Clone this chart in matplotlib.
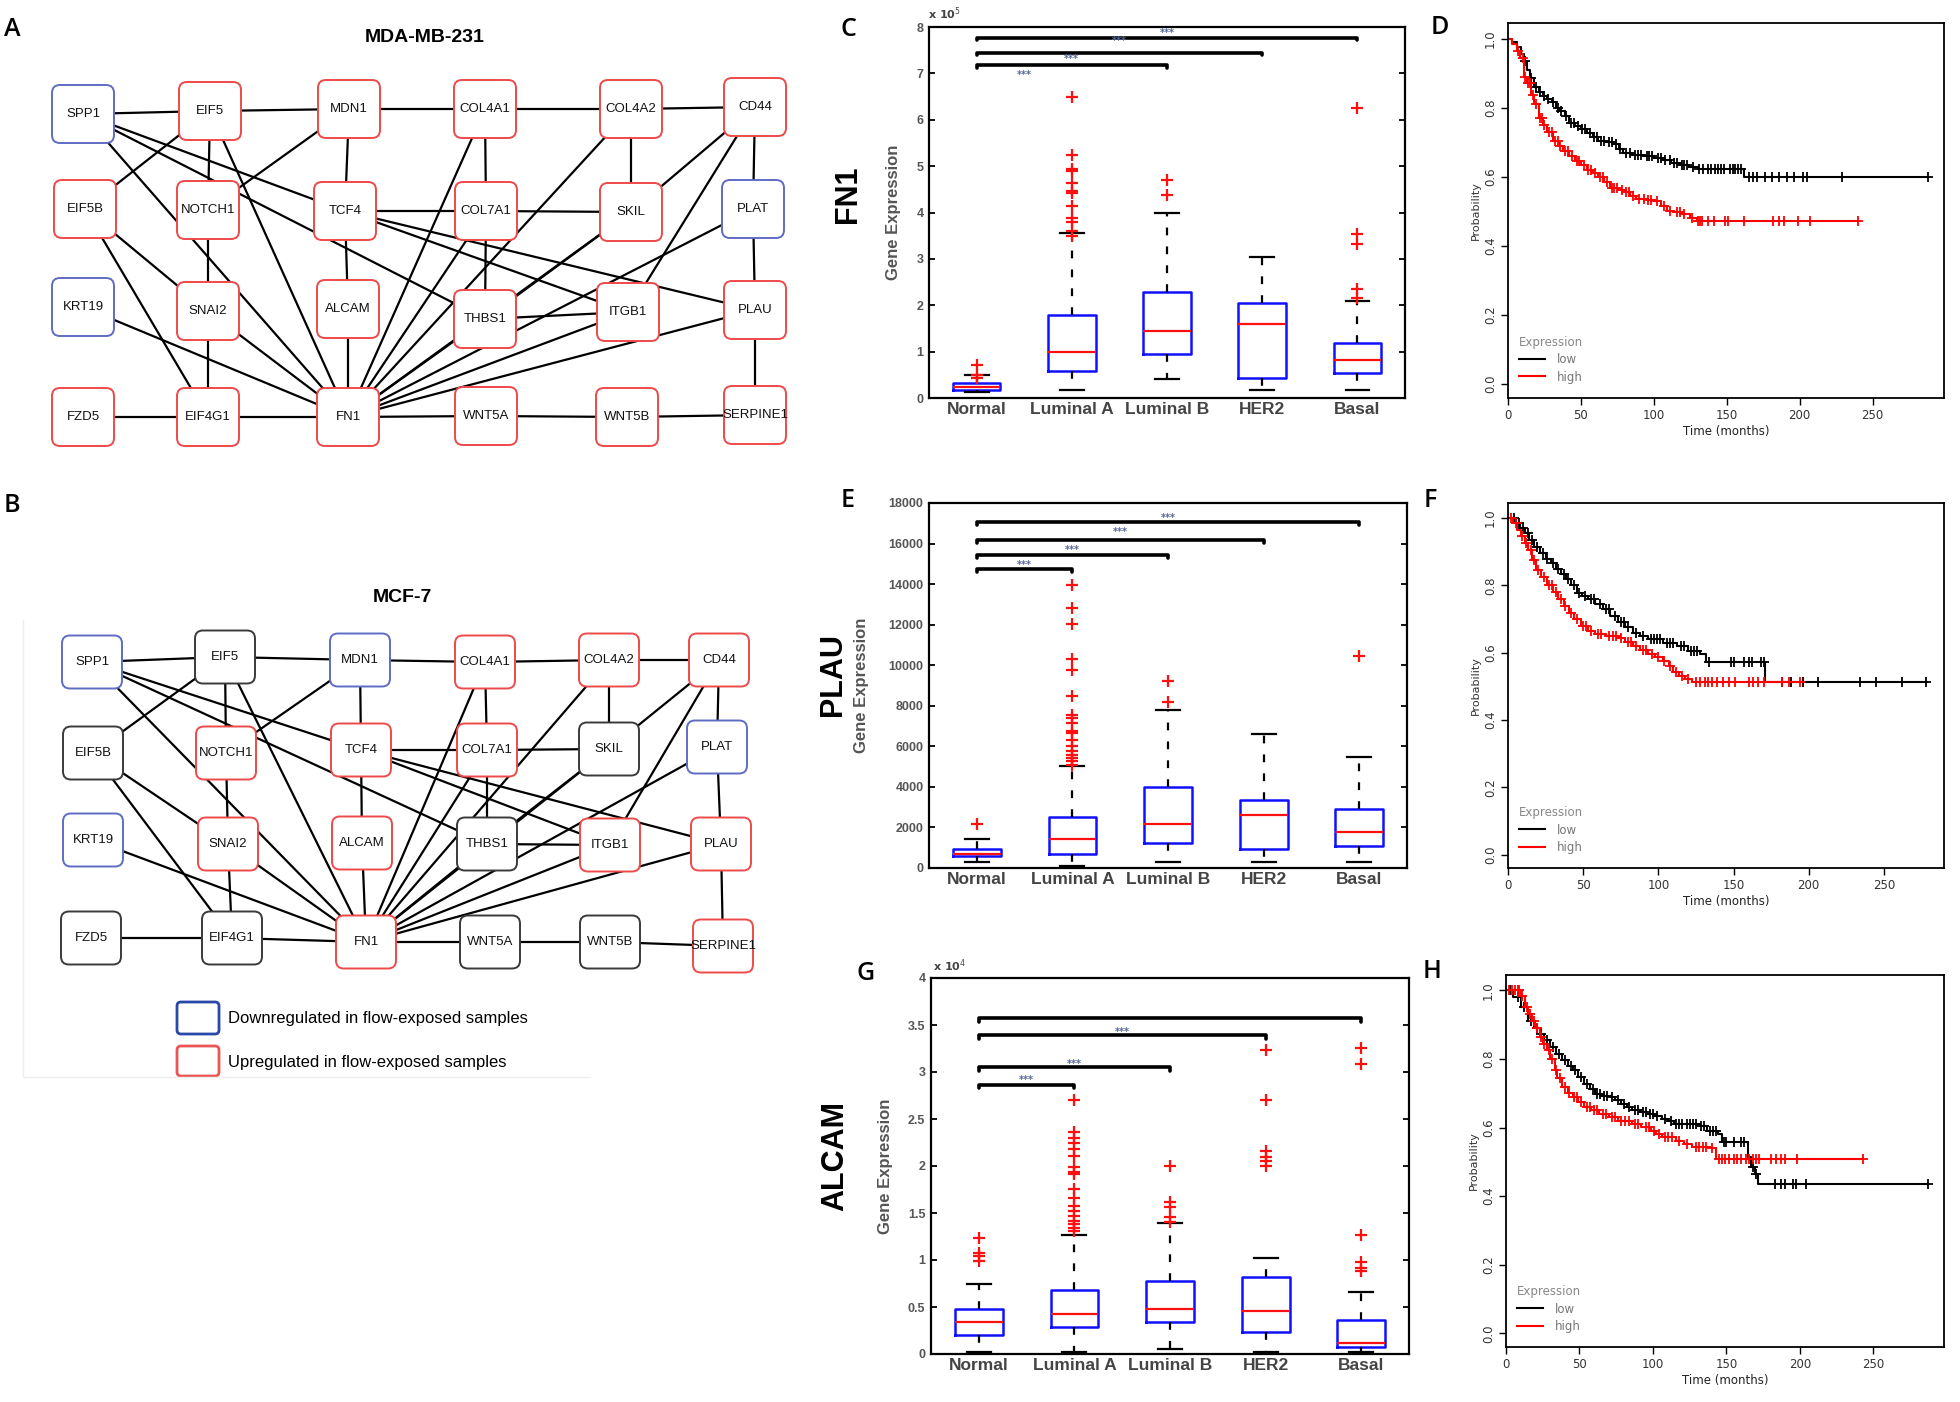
import numpy as np
import matplotlib
matplotlib.use('Agg')
import matplotlib.pyplot as plt
from matplotlib.patches import FancyBboxPatch
from matplotlib import font_manager

# ---------------- data ----------------
genes = ['SPP1', 'EIF5', 'MDN1', 'COL4A1', 'COL4A2', 'CD44',
         'EIF5B', 'NOTCH1', 'TCF4', 'COL7A1', 'SKIL', 'PLAT',
         'KRT19', 'SNAI2', 'ALCAM', 'THBS1', 'ITGB1', 'PLAU',
         'FZD5', 'EIF4G1', 'FN1', 'WNT5A', 'WNT5B', 'SERPINE1']
# network layout (node centres)
A_x = [83, 210, 349, 485, 631, 755, 85, 208, 345, 486, 631, 753,
       83, 208, 348, 485, 628, 755, 83, 208, 348, 486, 627, 755]
A_y = [114, 111, 109, 109, 109, 107, 209, 210, 211, 211, 212, 209,
       307, 311, 309, 319, 312, 310, 417, 417, 417, 416, 417, 415]
B_x = [92, 225, 360, 485, 609, 719, 93, 226, 361, 487, 609, 717,
       93, 228, 362, 487, 610, 721, 91, 232, 366, 490, 610, 723]
B_y = [662, 657, 660, 662, 660, 660, 753, 753, 750, 750, 749, 747,
       840, 844, 843, 844, 845, 844, 938, 938, 942, 942, 942, 946]
A_reg = ['down', 'up', 'up', 'up', 'up', 'up', 'up', 'up', 'up', 'up', 'up', 'down',
         'down', 'up', 'up', 'up', 'up', 'up', 'up', 'up', 'up', 'up', 'up', 'up']
B_reg = ['down', 'none', 'down', 'up', 'up', 'up', 'none', 'up', 'up', 'up', 'none', 'down',
         'down', 'up', 'up', 'none', 'up', 'up', 'none', 'none', 'up', 'none', 'none', 'up']
edges = [('SPP1', 'EIF5'), ('EIF5', 'MDN1'), ('MDN1', 'COL4A1'), ('COL4A1', 'COL4A2'), ('COL4A2', 'CD44'),
         ('SPP1', 'TCF4'), ('SPP1', 'THBS1'), ('SPP1', 'FN1'), ('EIF5', 'EIF5B'), ('EIF5', 'NOTCH1'),
         ('EIF5', 'FN1'), ('MDN1', 'NOTCH1'), ('MDN1', 'TCF4'), ('COL4A1', 'COL7A1'), ('COL4A1', 'FN1'),
         ('COL4A2', 'SKIL'), ('COL4A2', 'FN1'), ('CD44', 'SKIL'), ('CD44', 'PLAT'), ('CD44', 'ITGB1'),
         ('EIF5B', 'SNAI2'), ('EIF5B', 'EIF4G1'), ('NOTCH1', 'SNAI2'), ('TCF4', 'COL7A1'), ('TCF4', 'ALCAM'),
         ('TCF4', 'ITGB1'), ('TCF4', 'PLAU'), ('COL7A1', 'SKIL'), ('COL7A1', 'THBS1'), ('COL7A1', 'FN1'),
         ('SKIL', 'THBS1'), ('SKIL', 'FN1'), ('PLAT', 'FN1'), ('PLAT', 'PLAU'), ('KRT19', 'FN1'),
         ('SNAI2', 'EIF4G1'), ('SNAI2', 'FN1'), ('ALCAM', 'FN1'), ('THBS1', 'ITGB1'), ('THBS1', 'FN1'),
         ('ITGB1', 'FN1'), ('PLAU', 'FN1'), ('PLAU', 'SERPINE1'), ('FZD5', 'EIF4G1'), ('EIF4G1', 'FN1'),
         ('FN1', 'WNT5A'), ('WNT5A', 'WNT5B'), ('WNT5B', 'SERPINE1')]

subtypes = ['Normal', 'Luminal A', 'Luminal B', 'HER2', 'Basal']

# FN1 (x 10^5)
fn1_q1 = [0.18, 0.59, 0.95, 0.44, 0.54]
fn1_med = [0.23, 1.00, 1.45, 1.59, 0.82]
fn1_q3 = [0.32, 1.79, 2.29, 2.05, 1.19]
fn1_lo = [0.12, 0.18, 0.41, 0.18, 0.18]
fn1_hi = [0.50, 3.56, 3.98, 3.05, 2.09]
fn1_out = [[0.43, 0.50, 0.71],
           [6.49, 5.25, 4.93, 4.89, 4.64, 4.46, 4.43, 4.14, 3.89, 3.79, 3.60, 3.50],
           [4.71, 4.38], [], [6.25, 3.54, 3.32, 2.36, 2.16]]
fn1_bar_to = [3, 4, 5]
fn1_bar_y = [7.17, 7.45, 7.77]
fn1_star_to = [2, 3, 4, 5]
fn1_star_y = [6.96, 7.32, 7.70, 7.88]

# PLAU
plau_q1 = [575, 707, 1233, 937, 1101]
plau_med = [707, 1447, 2186, 2597, 1759]
plau_q3 = [937, 2499, 3978, 3337, 2910]
plau_lo = [296, 80, 296, 296, 296]
plau_hi = [1447, 5047, 7776, 6608, 5458]
plau_out = [[2170],
            [13973, 12822, 12050, 10307, 9748, 8466, 7562, 7398, 7151, 6740, 6658, 6329,
             6000, 5753, 5589, 5425, 5260, 5096],
            [9239, 8187], [], [10472]]
plau_bar_to = [2, 3, 4, 5]
plau_bar_y = [14746, 15453, 16193, 17047]
plau_star_to = [2, 3, 4, 5]
plau_star_y = [14927, 15699, 16570, 17260]

# ALCAM (x 10^4)
alcam_q1 = [0.199, 0.287, 0.34, 0.23, 0.074]
alcam_med = [0.34, 0.43, 0.479, 0.454, 0.117]
alcam_q3 = [0.479, 0.684, 0.773, 0.816, 0.365]
alcam_lo = [0.02, 0.02, 0.05, 0.02, 0.02]
alcam_hi = [0.75, 1.27, 1.39, 1.02, 0.66]
alcam_out = [[1.23, 1.07, 1.04, 0.99],
             [2.70, 2.36, 2.30, 2.24, 2.18, 2.11, 1.99, 1.94, 1.91, 1.76, 1.66, 1.57,
              1.52, 1.47, 1.41, 1.38, 1.34, 1.31],
             [2.0, 1.62, 1.56, 1.46, 1.40],
             [3.23, 2.70, 2.16, 2.10, 2.05, 2.0],
             [3.26, 3.09, 1.27, 0.975, 0.92, 0.88]]
alcam_bar_to = [2, 3, 4, 5]
alcam_bar_y = [2.865, 3.05, 3.39, 3.57]
alcam_star_to = [2, 3, 4]
alcam_star_y = [2.91, 3.09, 3.43]

# Kaplan-Meier curves (step times / survival, end of follow-up, censor times)
D_low_t = [0, 3, 6, 9, 11, 13, 15, 18, 21, 24, 27, 30, 33, 36, 39, 42, 46, 50, 54, 58, 62, 67, 72,
           76, 79, 85, 93, 100, 106, 112, 118, 124, 130, 162]
D_low_s = [1.0, 0.99, 0.975, 0.955, 0.935, 0.91, 0.885, 0.86, 0.845, 0.835, 0.825, 0.815, 0.80,
           0.79, 0.775, 0.757, 0.748, 0.738, 0.728, 0.715, 0.704, 0.70, 0.695, 0.68, 0.668, 0.663,
           0.66, 0.655, 0.648, 0.64, 0.635, 0.628, 0.622, 0.598]
D_low_end = 288
D_low_c = [12, 16, 19, 22, 25, 27.5, 31, 34, 36.5, 40, 43, 45, 48, 51, 53, 56, 59, 61, 64, 66, 69,
           71, 74, 77, 81, 84, 87, 89, 91, 95, 97, 99, 103, 105, 108, 111, 114, 116, 119, 121, 123,
           127, 131, 134, 137, 139, 142, 144, 146, 148, 152, 154, 156, 158, 160, 165, 168, 171, 176,
           181, 186, 191, 196, 202, 205, 229, 288]
D_high_t = [0, 3, 6, 8.5, 11, 13, 16, 18, 21, 24, 27, 31, 35, 38, 42, 46, 50, 54, 58, 62, 66, 70,
            76, 80, 84, 88, 95, 101, 105, 109, 114, 119, 125, 129.5]
D_high_s = [1.0, 0.985, 0.965, 0.944, 0.89, 0.87, 0.838, 0.81, 0.771, 0.75, 0.73, 0.704, 0.69,
            0.675, 0.66, 0.645, 0.635, 0.62, 0.61, 0.598, 0.585, 0.569, 0.562, 0.555, 0.545, 0.536,
            0.532, 0.53, 0.515, 0.502, 0.497, 0.492, 0.482, 0.473]
D_high_end = 240
D_high_c = [7, 10, 12, 14, 15, 17, 19.5, 22, 23, 25, 28, 30, 32, 34, 36, 39, 41, 44, 47, 49, 52, 55,
            57, 60, 63, 65, 68, 71, 73, 75, 78, 81, 83, 86, 90, 93, 96, 98, 102, 107, 111, 116, 118,
            121, 126, 130, 131.5, 133, 137, 141, 149, 151, 162, 182, 186, 189, 199, 207, 240]

F_low_t = [0, 5, 8, 11, 14, 17, 21, 25, 28.5, 32, 35, 38.4, 42, 45.8, 49, 53, 58, 63, 68, 73, 78,
           83, 88, 93, 103, 112.6, 120, 127.5, 132, 171]
F_low_s = [1.0, 0.985, 0.97, 0.956, 0.935, 0.915, 0.897, 0.88, 0.867, 0.85, 0.835, 0.818, 0.80,
           0.778, 0.768, 0.759, 0.745, 0.729, 0.71, 0.69, 0.675, 0.66, 0.65, 0.64, 0.63, 0.62,
           0.606, 0.596, 0.571, 0.514]
F_low_end = 279
F_low_c = [4, 7, 10, 13, 16, 19, 23, 26, 30, 33, 37, 40, 44, 47, 51, 55, 57, 61, 65, 67, 71, 75,
           77, 80, 85, 90, 95, 97, 99, 101, 106, 108, 110, 115, 117, 122, 124, 126, 134, 148, 150,
           157, 160, 162, 168, 170, 182, 188, 196, 206, 234, 245, 262, 278]
F_high_t = [0, 3, 6, 8.7, 11, 13.6, 16, 18.6, 22, 26, 30, 33.4, 37, 40.8, 44, 48.3, 53, 58, 65,
            73, 78, 83, 88, 93, 98, 103, 107, 110, 114, 117.6, 122.5]
F_high_s = [1.0, 0.985, 0.965, 0.946, 0.925, 0.906, 0.875, 0.847, 0.825, 0.80, 0.78, 0.759, 0.74,
            0.719, 0.70, 0.68, 0.665, 0.655, 0.65, 0.645, 0.632, 0.62, 0.608, 0.596, 0.586, 0.576,
            0.56, 0.542, 0.532, 0.522, 0.514]
F_high_end = 197
F_high_c = [2, 5, 9, 12, 15, 17, 20, 24, 27, 29, 32, 35, 38, 42, 46, 50, 52, 55, 60, 62, 67, 70,
            72, 75, 80, 82, 85, 90, 92, 96, 100, 104, 108, 112, 116, 120, 125, 128, 131, 133, 136,
            139, 143, 147, 151, 160, 163, 166, 170, 182, 187, 194]

H_low_t = [0, 5, 10, 15, 19, 22.8, 26, 30, 34, 38, 42, 45.5, 49, 53, 57, 60.7, 65, 70.9, 74, 78,
           82, 86, 91, 96, 101, 106, 110, 114, 131.6, 136.6, 144, 146.8, 164.5, 167, 169.5, 171.6]
H_low_s = [1.0, 0.98, 0.951, 0.912, 0.89, 0.874, 0.855, 0.835, 0.815, 0.796, 0.78, 0.767, 0.748,
           0.728, 0.712, 0.698, 0.692, 0.689, 0.68, 0.669, 0.66, 0.65, 0.645, 0.64, 0.633, 0.625,
           0.618, 0.611, 0.606, 0.591, 0.582, 0.557, 0.514, 0.484, 0.465, 0.434]
H_low_end = 287
H_low_c = [3, 8, 12, 17, 21, 24, 28, 32, 36, 40, 44, 47, 51, 55, 59, 62, 64, 67, 69, 72, 76, 80,
           84, 88, 90, 93, 95, 98, 100, 103, 108, 112, 116, 118, 120, 123, 125, 127, 129, 133, 135,
           139, 141, 143, 148, 150, 155, 160, 162, 168, 170, 183, 187, 190, 195, 197, 204, 287]
H_high_t = [0, 10, 12.6, 15, 17.7, 20, 22.8, 25, 27.8, 30, 33, 35, 38, 42, 45.5, 49, 53, 58, 63,
            70, 76, 86, 92, 98.7, 102, 106, 116, 121, 126.5, 139, 143]
H_high_s = [1.0, 0.985, 0.951, 0.93, 0.912, 0.89, 0.864, 0.845, 0.825, 0.80, 0.767, 0.745, 0.718,
            0.70, 0.689, 0.675, 0.66, 0.65, 0.64, 0.63, 0.62, 0.611, 0.603, 0.591, 0.58, 0.572,
            0.562, 0.552, 0.543, 0.541, 0.509]
H_high_end = 243
H_high_c = [2, 4, 6, 8, 9, 11, 14, 16, 19, 21, 24, 26, 29, 31, 34, 37, 40, 43, 46, 48, 51, 55, 57,
            60, 62, 66, 68, 72, 74, 78, 81, 84, 88, 90, 95, 97, 101, 104, 108, 110, 113, 118, 123,
            129, 131, 134, 136, 140, 145, 147, 149, 152, 155, 157, 160, 163, 165, 168, 170, 172,
            180, 184, 187, 190, 198, 243]

# ---------------- figure ----------------
W, H = 1960, 1402
fig = plt.figure(figsize=(W / 100, H / 100), dpi=100)
avail = {f.name for f in font_manager.fontManager.ttflist}
NARROW = 'Liberation Sans Narrow' if 'Liberation Sans Narrow' in avail else 'Liberation Sans'
SANS = 'Liberation Sans'
LETTER = 'Open Sans' if 'Open Sans' in avail else 'DejaVu Sans'


def fa(l, t, r, b):
    return [l / W, 1 - b / H, (r - l) / W, (b - t) / H]


def px(x, y):
    return x / W, 1 - y / H


# ---------------- networks ----------------
axn = fig.add_axes(fa(0, 0, 820, H))
axn.set_xlim(0, 820)
axn.set_ylim(H, 0)
axn.axis('off')
axn.patch.set_alpha(0)
regcol = {'up': '#ee4a4a', 'down': '#5f6cc4', 'none': '#3a3a3a'}


def draw_network(xs, ys, regs, bw, bh):
    pos = {g: (x, y) for g, x, y in zip(genes, xs, ys)}
    for a, b in edges:
        (x1, y1), (x2, y2) = pos[a], pos[b]
        axn.plot([x1, x2], [y1, y2], color='black', lw=1.6, zorder=1)
    for g, r in zip(genes, regs):
        x, y = pos[g]
        axn.add_patch(FancyBboxPatch((x - bw / 2, y - bh / 2), bw, bh,
                                     boxstyle='round,pad=0,rounding_size=8',
                                     fc='white', ec=regcol[r], lw=1.4, zorder=2))
        axn.text(x, y, g, ha='center', va='center', fontsize=9.5, family=NARROW,
                 color='#111111', zorder=3)


draw_network(A_x, A_y, A_reg, 62, 58)
draw_network(B_x, B_y, B_reg, 60, 53)
axn.text(425, 38, 'MDA-MB-231', ha='center', va='center', fontsize=14, weight='bold', family=SANS)
axn.text(402, 598, 'MCF-7', ha='center', va='center', fontsize=14, weight='bold', family=SANS)
# legend of network B
axn.add_patch(FancyBboxPatch((177, 1002), 42, 32, boxstyle='round,pad=0,rounding_size=4',
                             fc='white', ec='#2a48a8', lw=2))
axn.add_patch(FancyBboxPatch((177, 1046), 42, 30, boxstyle='round,pad=0,rounding_size=4',
                             fc='white', ec='#ec5555', lw=2))
axn.text(228, 1018, 'Downregulated in flow-exposed samples', va='center', fontsize=12, family=SANS)
axn.text(228, 1062, 'Upregulated in flow-exposed samples', va='center', fontsize=12, family=SANS)
axn.plot([23, 23, 590], [620, 1077, 1077], color='#eeeeee', lw=1)

# ---------------- box plots ----------------


def boxpanel(box, q1, med, q3, lo, hi, out, ylim, yticks, yticklabels,
             bar_to, bar_y, star_to, star_y, hook, ylab_x):
    ax = fig.add_axes(fa(*box))
    stats = [dict(med=m, q1=a, q3=b, whislo=l, whishi=h, fliers=np.array(o, dtype=float))
             for a, m, b, l, h, o in zip(q1, med, q3, lo, hi, out)]
    pos = np.arange(1, len(subtypes) + 1)
    ax.bxp(stats, positions=pos, widths=0.5,
           boxprops=dict(color='#1010ff', lw=1.8),
           medianprops=dict(color='#ff1010', lw=1.6),
           whiskerprops=dict(color='black', lw=1.6, linestyle=(0, (3.5, 5))),
           capprops=dict(color='black', lw=1.6),
           flierprops=dict(marker='+', markeredgecolor='#ff1010', markersize=8, mew=1.6,
                           linestyle='none'))
    for k, yb in zip(bar_to, bar_y):
        ax.plot([1, 1, k, k], [yb - hook, yb, yb, yb - hook], color='black', lw=2.6,
                solid_joinstyle='round', solid_capstyle='round')
    for k, ys in zip(star_to, star_y):
        ax.text((1 + k) / 2, ys, '***', ha='center', va='center', fontsize=7,
                color='#556699', weight='bold')
    ax.set_xlim(0.5, 5.5)
    ax.set_ylim(*ylim)
    ax.set_yticks(yticks)
    ax.set_yticklabels(yticklabels)
    ax.set_xticks(pos)
    ax.set_xticklabels(subtypes)
    ax.tick_params(axis='y', direction='in', right=True, length=4, width=1.3,
                   labelsize=9, labelcolor='#555555', pad=4)
    ax.tick_params(axis='x', length=0, labelsize=12.5, labelcolor='#444444', pad=3)
    for lab in ax.get_xticklabels() + ax.get_yticklabels():
        lab.set_fontweight('bold')
        lab.set_family(SANS)
    for s in ax.spines.values():
        s.set_linewidth(1.6)
    ax.set_ylabel('Gene Expression', fontsize=12, weight='bold', color='#555555', family=SANS)
    ax.yaxis.set_label_coords(ylab_x, 0.5)
    return ax


boxpanel((929, 27, 1405, 398), fn1_q1, fn1_med, fn1_q3, fn1_lo, fn1_hi, fn1_out,
         (0, 8), np.arange(0, 9), [str(v) for v in range(9)],
         fn1_bar_to, fn1_bar_y, fn1_star_to, fn1_star_y, 0.06, -0.058)
boxpanel((929, 503, 1407, 868), plau_q1, plau_med, plau_q3, plau_lo, plau_hi, plau_out,
         (0, 18000), np.arange(0, 18001, 2000), [str(v) for v in range(0, 18001, 2000)],
         plau_bar_to, plau_bar_y, plau_star_to, plau_star_y, 150, -0.125)
boxpanel((931, 978, 1409, 1354), alcam_q1, alcam_med, alcam_q3, alcam_lo, alcam_hi, alcam_out,
         (0, 4), np.arange(0, 4.01, 0.5), ['0', '0.5', '1', '1.5', '2', '2.5', '3', '3.5', '4'],
         alcam_bar_to, alcam_bar_y, alcam_star_to, alcam_star_y, 0.04, -0.08)
fig.text(*px(928, 14), 'x 10$^5$', fontsize=8, color='#444444', va='center', weight='bold')
fig.text(*px(933, 966), 'x 10$^4$', fontsize=8, color='#444444', va='center', weight='bold')
for name, (gx, gy) in zip(['FN1', 'PLAU', 'ALCAM'], [(848, 194), (833, 675), (835, 1156)]):
    fig.text(*px(gx, gy), name, rotation=90, ha='center', va='center', fontsize=22,
             weight='bold', family=NARROW)

# ---------------- Kaplan-Meier ----------------


def step_at(ts, ss, t):
    i = np.searchsorted(np.asarray(ts), t, side='right') - 1
    return np.asarray(ss)[i]


def kmpanel(box, curves, xmax):
    ax = fig.add_axes(fa(*box))
    handles = []
    for ts, ss, end, cens, col in curves:
        tt = list(ts) + [end]
        sv = list(ss) + [ss[-1]]
        ln, = ax.step(tt, sv, where='post', color=col, lw=1.5)
        c = np.asarray(cens, dtype=float)
        ax.plot(c, step_at(ts, ss, c), linestyle='none', marker='+', color=col,
                markersize=7, mew=1.3)
        handles.append(ln)
    ax.set_xlim(0, xmax)
    ax.set_ylim(-0.04, 1.045)
    ax.set_xticks([0, 50, 100, 150, 200, 250])
    ax.set_yticks([0, 0.2, 0.4, 0.6, 0.8, 1.0])
    ax.set_yticklabels(['0.0', '0.2', '0.4', '0.6', '0.8', '1.0'], rotation=90, va='center')
    ax.tick_params(direction='out', length=5, width=1, labelsize=8.5, labelcolor='#333333', pad=3)
    for s in ax.spines.values():
        s.set_linewidth(1.3)
    ax.set_xlabel('Time (months)', fontsize=8.5, color='#222222', labelpad=2)
    ax.set_ylabel('Probability', fontsize=8, color='#333333', labelpad=2)
    leg = ax.legend(handles, ['low', 'high'], title='Expression', loc='lower left',
                    bbox_to_anchor=(0.0, 0.01), frameon=False, fontsize=8.5, title_fontsize=8.5,
                    handlelength=2.2, handletextpad=1.0, labelspacing=0.35, alignment='left')
    leg.get_title().set_color('#888888')
    for t in leg.get_texts():
        t.set_color('#777777')
    return ax


kmpanel((1508, 23, 1944, 398),
        [(D_low_t, D_low_s, D_low_end, D_low_c, 'black'),
         (D_high_t, D_high_s, D_high_end, D_high_c, '#ff0000')], 299)
kmpanel((1508, 503, 1944, 868),
        [(F_low_t, F_low_s, F_low_end, F_low_c, 'black'),
         (F_high_t, F_high_s, F_high_end, F_high_c, '#ff0000')], 290)
kmpanel((1506, 975, 1944, 1347),
        [(H_low_t, H_low_s, H_low_end, H_low_c, 'black'),
         (H_high_t, H_high_s, H_high_end, H_high_c, '#ff0000')], 298)

# ---------------- panel letters ----------------
for L, (lx, ly) in zip('ABCDEFGH', [(12, 29), (12, 506), (848, 29), (1440, 28),
                                    (848, 500), (1430, 500), (866, 974), (1432, 971)]):
    fig.text(*px(lx, ly), L, fontsize=18, weight='semibold', family=LETTER,
             ha='center', va='center')

fig.savefig('out.png', dpi=100, facecolor='white')
